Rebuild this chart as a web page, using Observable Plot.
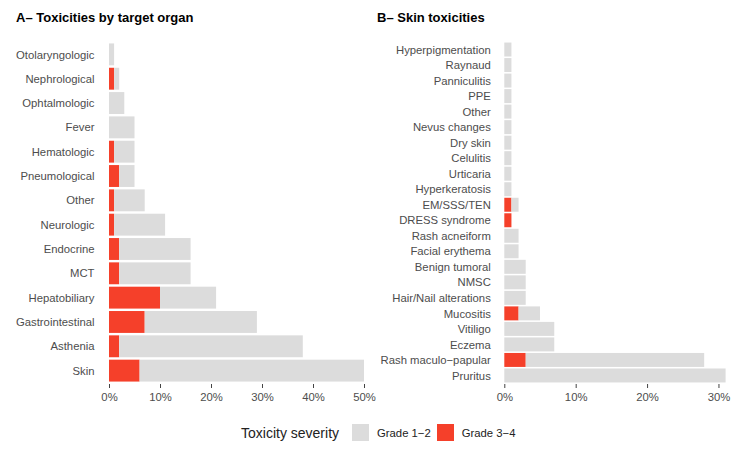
<!DOCTYPE html>
<html>
<head>
<meta charset="utf-8">
<script src="https://cdn.jsdelivr.net/npm/d3@7"></script>
<script src="https://cdn.jsdelivr.net/npm/@observablehq/plot@0.6"></script>
<style>
  html, body { margin: 0; padding: 0; background: #fff; }
  #root { position: relative; width: 745px; height: 452px; font-family: "Liberation Sans", Arial, sans-serif; overflow: hidden; }
  .title { position: absolute; top: 10px; font-size: 13px; font-weight: bold; color: #000; }
  #left { position: absolute; left: 0; top: 0; }
  #right { position: absolute; left: 370px; top: 0; }
  #legend { position: absolute; left: 241px; top: 416px; display: flex; align-items: center; }
  #legend .lt { font-size: 14px; color: #222; margin-right: 13px; }
  .lg-swatch { margin-right: 6px !important; }
  .lg-swatch svg { margin-right: 8px !important; }
</style>
</head>
<body>
<div id="root">
  <div id="left"></div>
  <div id="right"></div>
  <div class="title" style="left:16px">A– Toxicities by target organ</div>
  <div class="title" style="left:377px">B– Skin toxicities</div>
  <div id="legend"><span class="lt">Toxicity severity</span></div>
</div>
<script>
// Panel A: toxicities by target organ (percent of patients)
const organs = ["Otolaryngologic","Nephrological","Ophtalmologic","Fever","Hematologic","Pneumological","Other","Neurologic","Endocrine","MCT","Hepatobiliary","Gastrointestinal","Asthenia","Skin"];
const organGrade34 = [0,1,0,0,1,2,1,1,2,2,10,7,2,6];
const organGrade12 = [1,1,3,5,4,3,6,10,14,14,11,22,36,44];
const organTicks = [0,10,20,30,40,50];

// Panel B: skin toxicities (percent of patients)
const skinTox = ["Hyperpigmentation","Raynaud","Panniculitis","PPE","Other","Nevus changes","Dry skin","Celulitis","Urticaria","Hyperkeratosis","EM/SSS/TEN","DRESS syndrome","Rash acneiform","Facial erythema","Benign tumoral","NMSC","Hair/Nail alterations","Mucositis","Vitiligo","Eczema","Rash maculo\u2212papular","Pruritus"];
const skinGrade34 = [0,0,0,0,0,0,0,0,0,0,1,1,0,0,0,0,0,2,0,0,3,0];
const skinGrade12 = [1,1,1,1,1,1,1,1,1,1,1,0,2,2,3,3,3,3,7,7,25,31];
const skinTicks = [0,10,20,30];

const grades = ["Grade 1\u22122","Grade 3\u22124"];
const gradeColors = ["#dcdcdc","#f5402a"];

function rows(cats, g34, g12) {
  const out = [];
  cats.forEach((c, i) => out.push({cat: c, grade: grades[1], v: g34[i]}));
  cats.forEach((c, i) => out.push({cat: c, grade: grades[0], v: g12[i]}));
  return out;
}

const font = "Liberation Sans, Arial, sans-serif";

function panel(cats, g34, g12, ticks, xmax, width, marginLeft, marginRight, pad) {
  return Plot.plot({
    width, height: 410,
    marginLeft, marginRight, marginTop: 41, marginBottom: 26,
    style: {fontFamily: font, fontSize: "11.3px", color: "#4d4d4d", background: "transparent", overflow: "visible"},
    x: {domain: [0, xmax], ticks, tickFormat: d => d + "%", label: null},
    y: {domain: cats, padding: 0.1, round: false, label: null},
    color: {domain: grades, range: gradeColors},
    marks: [
      Plot.barX(rows(cats, g34, g12), Plot.stackX({x: "v", y: "cat", fill: "grade", order: null})),
      Plot.axisX({ticks, tickFormat: d => d + "%", tickSize: 4, tickPadding: 4, label: null, stroke: "#444"}),
      Plot.axisY({tickSize: 0, tickPadding: pad, label: null})
    ]
  });
}

document.getElementById("left").append(panel(organs, organGrade34, organGrade12, organTicks, 50, 380, 109, 16, 15));
document.getElementById("right").append(panel(skinTox, skinGrade34, skinGrade12, skinTicks, 31, 375, 134.3, 19.4, 14));

const leg = Plot.legend({
  color: {domain: grades, range: gradeColors},
  legend: "swatches",
  className: "lg",
  swatchSize: 17,
  style: {fontFamily: font, fontSize: "11.3px", color: "#222", margin: 0}
});
document.getElementById("legend").append(leg);
</script>
</body>
</html>
